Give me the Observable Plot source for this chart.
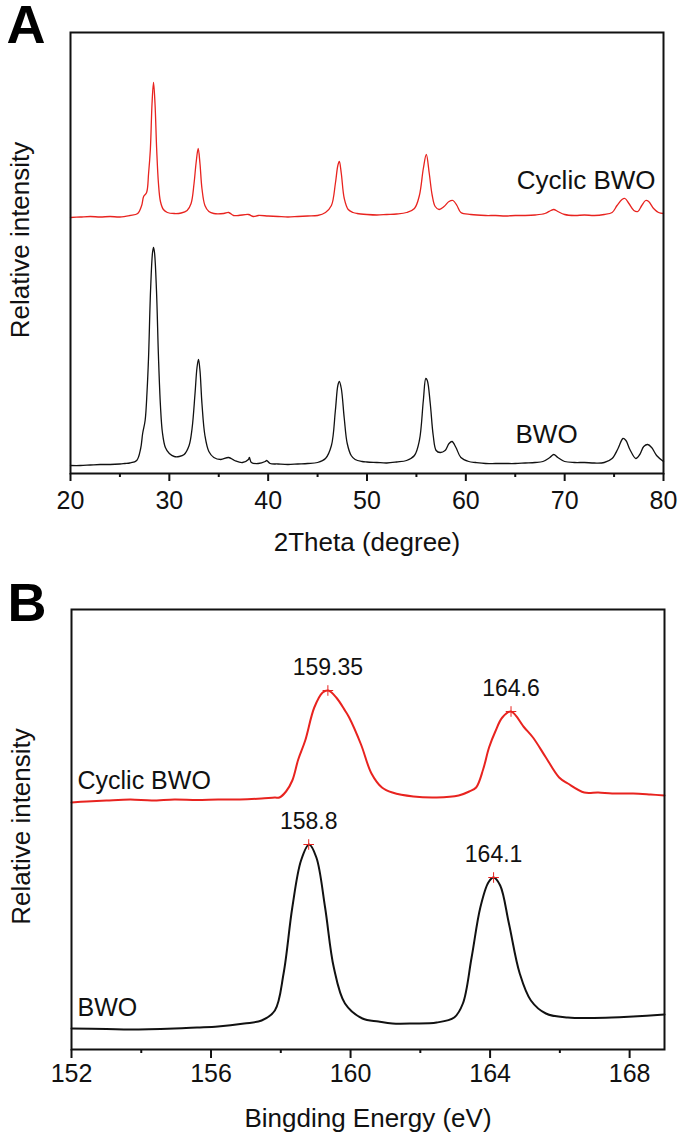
<!DOCTYPE html>
<html>
<head>
<meta charset="utf-8">
<script src="https://cdn.jsdelivr.net/npm/d3@7"></script>
<script src="https://cdn.jsdelivr.net/npm/@observablehq/plot@0.6"></script>
<style>
html, body { margin: 0; padding: 0; background: #fff; }
#chart { width: 685px; height: 1141px; overflow: hidden; }
#chart svg { display: block; }
</style>
</head>
<body>
<div id="chart"></div>
<script>
// ---------- Panel A: XRD (2Theta in degree, relative intensity in a.u.) ----------
const xrdThetaCyclic = [20,21,22,23,24,25,26,26.8,27.2,27.4,27.7,27.9,28.08,28.25,28.4,28.55,28.72,28.9,29.1,29.4,29.8,30.5,31.2,31.8,32.2,32.5,32.7,32.92,33.1,33.3,33.6,34,34.5,35.5,36,36.5,37,38,38.5,39,40,41,42,43,44,45,45.8,46.4,46.8,47.05,47.2,47.4,47.7,48.1,48.6,49,50,51,52,53,54,54.8,55.3,55.7,56,56.3,56.6,56.9,57.3,57.8,58.3,58.7,59.1,59.5,60.5,62,63,64,65,66,67,68,68.6,68.9,69.3,70,71,72,73,74,74.8,75.3,75.8,76.1,76.5,77,77.4,77.8,78.2,78.5,79,79.5,80];
const xrdIntensityCyclic = [256,256.5,257,256.5,257,256.5,258,260,268,277,281,300,324,370,391,370,324,290,272,264,261,260,260.5,263,270,290,310,325,310,285,268,262,260,260,261,258,258,259,257,258,257.5,257,256.5,257,257.5,258,261,268,290,308,312,300,275,264,261,260,259,258.5,259,259.5,261,265,278,305,319,300,278,267,264,267,272,273,268,261,259,258,258,257.5,258,258,258.5,260,263,264,262,259,258,258.5,258,259,261,268,274,275,270,263,262,268,273,272,265,261,260];

const xrdThetaBWO = [20,21,22,23,24,25,25.5,26,26.7,27.1,27.3,27.55,27.75,27.9,28.1,28.3,28.4,28.5,28.7,28.9,29.1,29.3,29.6,30,30.5,31,31.5,32,32.3,32.6,32.8,32.95,33.1,33.3,33.6,34,34.5,35.2,36,36.6,37.4,38,38.1,38.3,39,39.7,39.85,40.2,41,42,43,44,45,45.8,46.4,46.8,47.05,47.2,47.4,47.7,48,48.4,48.8,49.5,50,51,52,53,54,54.8,55.3,55.7,55.95,56.1,56.4,56.7,57,57.4,57.9,58.3,58.6,59,59.5,60.3,61,62,63,64,65,66,67,67.8,68.5,68.9,69.3,70,71,72,73,74,74.8,75.4,75.9,76.2,76.6,77.2,77.6,78,78.4,78.8,79.3,80];
const xrdIntensityBWO = [8,8,8.5,9,9,9.5,10,10.5,13,25,40,53,83,117,183,221,226,221,183,117,68,41,26,20,17,17,19,28,45,80,106,114,103,70,38,22,16,14,16,13,11,14,16,11,10,12,13,10,9.5,9,9.5,10,11,15,28,63,88,92,85,55,30,18,14,12,11.5,11,10.5,11.5,13,18,33,73,95,93,70,38,23,21,23,30,32,26,16,12,11,10,10,10,10,10.5,11,12,16,19,16,12,11,11,10.5,11,15,25,35,33,24,15,19,27,29,26,18,12];

const xrdMajorTicks = [20,30,40,50,60,70,80];
const xrdMinorTicks = [25,35,45,55,65,75];

// ---------- Panel B: XPS (binding energy in eV, relative intensity in a.u.) ----------
const xpsEnergyCyclic = [152,152.44,153,153.69,154.3,154.95,155.6,156.2,156.83,157.45,157.83,157.96,158.15,158.33,158.5,158.7,158.96,159.2,159.36,159.59,159.84,159.96,160.3,160.6,160.9,161.2,161.8,162.47,163.1,163.4,163.6,163.8,163.97,164.15,164.35,164.6,164.98,165.23,165.6,165.98,166.23,166.7,167.1,167.5,168.1,168.6,169];
const xpsIntensityCyclic = [247,248,249,250,249,250,249.5,250,250,251,252,252,258,269,290,309,342,357,359,352,339,332,305,276,262,257,253,252,254,258,262,280,302,318,332,338,322,312,292,272,266,257,257,256,256,255,254];

const xpsEnergyBWO = [152,153,153.7,154.95,155.6,156.2,156.95,157.45,157.83,158.08,158.33,158.58,158.81,159.02,159.27,159.52,159.84,160.34,160.8,161.2,161.8,162.47,162.97,163.22,163.47,163.72,163.95,164.1,164.29,164.54,164.85,165.17,165.6,166.23,167.49,168.1,169];
const xpsIntensityBWO = [21,20.5,20,21,22,23,26,29,39,76,142,189,205,192,142,82,46,31,28,26,26,27,32,46,92,142,167,172,164,126,76,49,36,32,32,33,35];

const xpsPeakEnergy = [159.35, 164.6, 158.8, 164.1];
const xpsPeakIntensity = [359, 338, 205, 172];
const xpsPeakLabels = ["159.35", "164.6", "158.8", "164.1"];

const xpsMajorTicks = [152,156,160,164,168];
const xpsMinorTicks = [154,158,162,166];

const seriesNames = ["Cyclic BWO", "BWO"];
const yLabel = "Relative intensity";
const xrdXLabel = "2Theta (degree)";
const xpsXLabel = "Bingding Energy (eV)";
const panelLetters = ["A", "B"];

// ---------- build tables ----------
const toRows = (xs, ys) => xs.map((x, i) => ({x, y: ys[i]}));
const xrdCyclic = toRows(xrdThetaCyclic, xrdIntensityCyclic);
const xrdBWO = toRows(xrdThetaBWO, xrdIntensityBWO);
const xpsCyclic = toRows(xpsEnergyCyclic, xpsIntensityCyclic);
const xpsBWO = toRows(xpsEnergyBWO, xpsIntensityBWO);
const xpsPeaks = xpsPeakEnergy.map((x, i) => ({x, y: xpsPeakIntensity[i], label: xpsPeakLabels[i]}));

const FONT = "'Liberation Sans', Arial, Helvetica, sans-serif";
const RED = "#e8231f";
const INK = "#111";
const txt = d => d;
const M = "middle";

const plotA = Plot.plot({
  width: 685, height: 565,
  marginTop: 32, marginLeft: 70, marginRight: 22, marginBottom: 92,
  style: {fontFamily: FONT, background: "white", color: INK, overflow: "visible"},
  x: {domain: [20, 80], label: null},
  y: {domain: [0, 441], axis: null},
  marks: [
    Plot.line(xrdCyclic, {x: "x", y: "y", stroke: RED, strokeWidth: 1.3, curve: "catmull-rom"}),
    Plot.line(xrdBWO, {x: "x", y: "y", stroke: INK, strokeWidth: 1.3, curve: "catmull-rom"}),
    Plot.frame({stroke: INK, strokeWidth: 2}),
    Plot.axisX({ticks: xrdMajorTicks, tickSize: 8, tickPadding: 10, fontSize: 25, strokeWidth: 2, tickFormat: d => String(d), label: null}),
    Plot.axisX({ticks: xrdMinorTicks, tickSize: 4, strokeWidth: 2, tickFormat: () => "", label: null}),
    Plot.text([xrdXLabel], {text: txt, frameAnchor: "bottom", textAnchor: M, lineAnchor: M, dy: 69, fontSize: 26, fill: INK}),
    Plot.text([yLabel], {text: txt, frameAnchor: "left", textAnchor: M, lineAnchor: M, rotate: -90, dx: -50, dy: -13, fontSize: 26, fill: INK}),
    Plot.text([seriesNames[0]], {text: txt, frameAnchor: "top-right", textAnchor: "end", lineAnchor: M, dx: -8, dy: 148, fontSize: 26, fill: INK}),
    Plot.text([seriesNames[1]], {text: txt, frameAnchor: "bottom-right", textAnchor: "start", lineAnchor: M, dx: -148, dy: -39, fontSize: 26, fill: INK}),
    Plot.text([panelLetters[0]], {text: txt, frameAnchor: "top-left", textAnchor: "start", lineAnchor: M, dx: -64, dy: -6.5, fontSize: 54, fontWeight: "bold", fill: "#000"})
  ]
});

const plotB = Plot.plot({
  width: 685, height: 576,
  marginTop: 44, marginLeft: 71, marginRight: 21, marginBottom: 92,
  style: {fontFamily: FONT, background: "white", color: INK, overflow: "visible"},
  x: {domain: [152, 169], label: null},
  y: {domain: [0, 440], axis: null},
  marks: [
    Plot.line(xpsCyclic, {x: "x", y: "y", stroke: RED, strokeWidth: 2, curve: "catmull-rom"}),
    Plot.line(xpsBWO, {x: "x", y: "y", stroke: INK, strokeWidth: 2, curve: "catmull-rom"}),
    Plot.dot(xpsPeaks, {x: "x", y: "y", symbol: "plus", r: 3.5, stroke: RED, strokeWidth: 1}),
    Plot.text(xpsPeaks, {x: "x", y: "y", text: "label", textAnchor: M, lineAnchor: M, dy: -23, fontSize: 23, fill: INK}),
    Plot.frame({stroke: INK, strokeWidth: 2}),
    Plot.axisX({ticks: xpsMajorTicks, tickSize: 9, tickPadding: 6, fontSize: 25, strokeWidth: 2, tickFormat: d => String(d), label: null}),
    Plot.axisX({ticks: xpsMinorTicks, tickSize: 4, strokeWidth: 2, tickFormat: () => "", label: null}),
    Plot.text([xpsXLabel], {text: txt, frameAnchor: "bottom", textAnchor: M, lineAnchor: M, dy: 69, fontSize: 26, fill: INK}),
    Plot.text([yLabel], {text: txt, frameAnchor: "left", textAnchor: M, lineAnchor: M, rotate: -90, dx: -50, dy: -3, fontSize: 26, fill: INK}),
    Plot.text([seriesNames[0]], {text: txt, frameAnchor: "top-left", textAnchor: "start", lineAnchor: M, dx: 6, dy: 171, fontSize: 25, fill: INK}),
    Plot.text([seriesNames[1]], {text: txt, frameAnchor: "bottom-left", textAnchor: "start", lineAnchor: M, dx: 6, dy: -42, fontSize: 25, fill: INK}),
    Plot.text([panelLetters[1]], {text: txt, frameAnchor: "top-left", textAnchor: "start", lineAnchor: M, dx: -64, dy: -5.5, fontSize: 54, fontWeight: "bold", fill: "#000"})
  ]
});

const chart = document.getElementById("chart");
chart.appendChild(plotA);
chart.appendChild(plotB);
</script>
</body>
</html>
